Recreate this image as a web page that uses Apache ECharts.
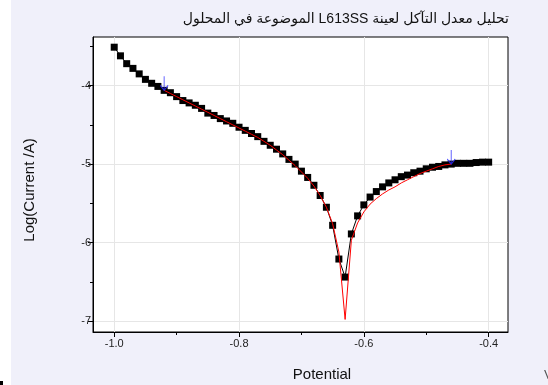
<!DOCTYPE html>
<html>
<head>
<meta charset="utf-8">
<script src="https://cdn.jsdelivr.net/npm/echarts@6/dist/echarts.min.js"></script>
<style>
  html, body { margin: 0; padding: 0; background: #fff; }
  #chart { width: 548px; height: 385px; }
</style>
</head>
<body>
<div id="chart"></div>
<script>
// measured polarisation curve (black squares)
const potential = [-1.00, -0.99, -0.98, -0.97, -0.96, -0.95, -0.94, -0.93, -0.92, -0.91,
  -0.90, -0.89, -0.88, -0.87, -0.86, -0.85, -0.84, -0.83, -0.82, -0.81,
  -0.80, -0.79, -0.78, -0.77, -0.76, -0.75, -0.74, -0.73, -0.72, -0.71,
  -0.70, -0.69, -0.68, -0.67, -0.66, -0.65, -0.64, -0.63, -0.62, -0.61,
  -0.60, -0.59, -0.58, -0.57, -0.56, -0.55, -0.54, -0.53, -0.52, -0.51,
  -0.50, -0.49, -0.48, -0.47, -0.46, -0.45, -0.44, -0.43, -0.42, -0.41, -0.40];
const logCurrent = [-3.51, -3.62, -3.72, -3.78, -3.85, -3.92, -3.97, -4.01, -4.06, -4.09,
  -4.14, -4.19, -4.22, -4.25, -4.29, -4.35, -4.38, -4.42, -4.45, -4.48,
  -4.53, -4.57, -4.61, -4.65, -4.71, -4.76, -4.81, -4.87, -4.94, -5.00,
  -5.09, -5.17, -5.27, -5.40, -5.55, -5.78, -6.21, -6.44, -5.89, -5.66,
  -5.52, -5.42, -5.35, -5.29, -5.24, -5.20, -5.16, -5.14, -5.11, -5.09,
  -5.06, -5.04, -5.03, -5.01, -5.00, -4.99, -4.99, -4.99, -4.98, -4.975, -4.975];

// Tafel fit (red line)
const fitPotential = [-0.92, -0.91, -0.90, -0.89, -0.88, -0.87, -0.86, -0.85, -0.84, -0.83,
  -0.82, -0.81, -0.80, -0.79, -0.78, -0.77, -0.76, -0.75, -0.74, -0.73,
  -0.72, -0.71, -0.70, -0.69, -0.68, -0.67, -0.66, -0.65, -0.64, -0.63,
  -0.62, -0.61, -0.60, -0.59, -0.58, -0.57, -0.56, -0.55, -0.54, -0.53,
  -0.52, -0.51, -0.50, -0.49, -0.48, -0.47, -0.46];
const fitLog = [-4.06, -4.10, -4.14, -4.18, -4.22, -4.26, -4.30, -4.34, -4.38, -4.42,
  -4.46, -4.50, -4.54, -4.58, -4.62, -4.66, -4.71, -4.76, -4.82, -4.88,
  -4.95, -5.02, -5.10, -5.18, -5.28, -5.40, -5.55, -5.76, -6.12, -6.98,
  -5.97, -5.75, -5.61, -5.51, -5.44, -5.38, -5.33, -5.29, -5.24, -5.20,
  -5.16, -5.12, -5.09, -5.06, -5.03, -5.01, -5.00];

// fit range markers (blue arrows)
const markerPotential = [-0.92, -0.46];
const markerLog = [-4.06, -5.00];

const xTicks = [-1.0, -0.8, -0.6, -0.4];
const xMinorTicks = [-0.9, -0.7, -0.5];
const yTicks = [-7, -6, -5, -4];
const yMinorTicks = [-6.5, -5.5, -4.5, -3.5];

const FONT = "'Liberation Sans', Arial, 'DejaVu Sans', sans-serif";
const X_MIN = -1.034, X_MAX = -0.369;
const Y_MIN = -7.14, Y_MAX = -3.38;

const chart = echarts.init(document.getElementById('chart'));

const measured = potential.map((p, i) => [p, logCurrent[i]]);
const fitted = fitPotential.map((p, i) => [p, fitLog[i]]);
const markers = markerPotential.map((p, i) => [p, markerLog[i]]);

const option = {
  animation: false,
  backgroundColor: '#F0F0FA',
  title: {
    // written in visual (left-to-right) order so the canvas lays it out as in the source
    text: 'الموضوعة في المحلول L613SS تحليل معدل التآكل لعينة',
    right: 34,
    top: 7,
    textStyle: { fontFamily: FONT, fontSize: 14, fontWeight: 'normal', color: '#111' }
  },
  grid: {
    left: 93, top: 37, right: 40, bottom: 53,
    show: true, backgroundColor: '#fff', borderColor: '#000', borderWidth: 1
  },
  xAxis: [{
    type: 'value', min: X_MIN, max: X_MAX,
    axisLine: { show: true, onZero: false, lineStyle: { color: '#000' } },
    axisTick: { show: true, length: 5, customValues: xTicks, lineStyle: { color: '#000' } },
    axisLabel: {
      customValues: xTicks, margin: 6, fontFamily: FONT, fontSize: 11, color: '#222',
      formatter: v => v.toFixed(1)
    },
    splitLine: { show: true, lineStyle: { color: '#E6E6E6', width: 1 } }
  }, {
    type: 'value', min: X_MIN, max: X_MAX, position: 'bottom',
    axisLine: { show: false },
    axisTick: { show: true, length: 3, customValues: xMinorTicks, lineStyle: { color: '#000' } },
    axisLabel: { show: false },
    splitLine: { show: false }
  }],
  yAxis: [{
    type: 'value', min: Y_MIN, max: Y_MAX,
    axisLine: { show: true, onZero: false, lineStyle: { color: '#000' } },
    axisTick: { show: true, length: 5, customValues: yTicks, lineStyle: { color: '#000' } },
    axisLabel: { customValues: yTicks, margin: 2, fontFamily: FONT, fontSize: 11, color: '#222' },
    splitLine: { show: true, lineStyle: { color: '#E6E6E6', width: 1 } }
  }, {
    type: 'value', min: Y_MIN, max: Y_MAX, position: 'left',
    axisLine: { show: false },
    axisTick: { show: true, length: 3, customValues: yMinorTicks, lineStyle: { color: '#000' } },
    axisLabel: { show: false },
    splitLine: { show: false }
  }],
  graphic: [
    { type: 'rect', shape: { x: 0, y: 0, width: 11, height: 385 }, style: { fill: '#fff' }, z: -10 },
    { type: 'rect', shape: { x: 0, y: 381, width: 3, height: 4 }, style: { fill: '#000' } },
    {
      type: 'text', x: 322, y: 375,
      style: { text: 'Potential', fontFamily: FONT, fontSize: 15, fill: '#111', align: 'center', verticalAlign: 'middle' }
    },
    {
      type: 'text', x: 30, y: 190, rotation: Math.PI / 2,
      style: { text: 'Log(Current /A)', fontFamily: FONT, fontSize: 15, fill: '#111', align: 'center', verticalAlign: 'middle' }
    },
    {
      type: 'text', x: 544, y: 375,
      style: { text: 'V', fontFamily: FONT, fontSize: 13, fill: '#555', align: 'left', verticalAlign: 'middle' }
    }
  ],
  series: [{
    name: 'measured',
    type: 'line',
    data: measured,
    symbol: 'rect',
    symbolSize: 7,
    showAllSymbol: true,
    itemStyle: { color: '#000' },
    lineStyle: { color: '#000', width: 1 },
    z: 2
  }, {
    name: 'fit',
    type: 'line',
    data: fitted,
    showSymbol: false,
    lineStyle: { color: '#FF0000', width: 1 },
    z: 3
  }, {
    name: 'range',
    type: 'scatter',
    data: markers,
    symbol: 'path://M5,0L5,14M1,9L5,14L9,9',
    symbolSize: [8, 14],
    symbolOffset: [0, -7],
    itemStyle: { color: 'rgba(0,0,0,0)', borderColor: '#2A2AFF', borderWidth: 1.2 },
    z: 4
  }]
};

chart.setOption(option);
</script>
</body>
</html>
